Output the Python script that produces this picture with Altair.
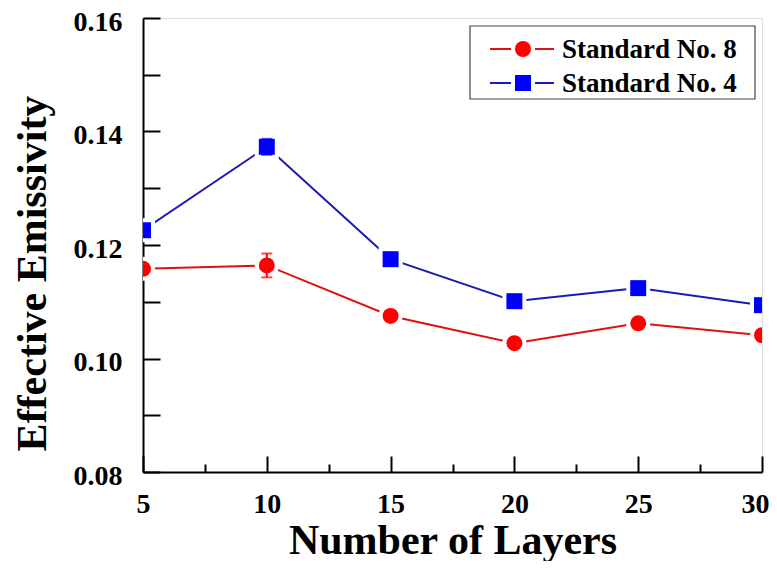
import altair as alt
import pandas as pd

# ---- data ----
layers = [5, 10, 15, 20, 25, 30]
series_names = ["Standard No. 8", "Standard No. 4"]
no8 = [0.1158, 0.1164, 0.1075, 0.1027, 0.1062, 0.1041]
no8_err = [0.0004, 0.0021, 0.0004, 0.0004, 0.0004, 0.0004]
no4 = [0.1226, 0.1373, 0.1175, 0.1101, 0.1124, 0.1094]
no4_err = [0.0006, 0.0014, 0.0005, 0.0004, 0.0005, 0.0004]
y_ticks = [0.08, 0.09, 0.10, 0.11, 0.12, 0.13, 0.14, 0.15, 0.16]
y_labels = [0.08, 0.10, 0.12, 0.14, 0.16]
x_major = [5, 10, 15, 20, 25, 30]
x_minor = [7.5, 12.5, 17.5, 22.5, 27.5]

marker_colors = ["#ff0000", "#0000ff"]
line_colors = ["#dd1111", "#1a1ab4"]
shapes = ["circle", "square"]

FONT = "Liberation Serif"

frames = []
for name, vals, errs in [(series_names[0], no8, no8_err), (series_names[1], no4, no4_err)]:
    frames.append(pd.DataFrame({
        "series": name,
        "layers": layers,
        "value": vals,
        "lo": [v - e for v, e in zip(vals, errs)],
        "hi": [v + e for v, e in zip(vals, errs)],
    }))
df = pd.concat(frames, ignore_index=True)

xscale = alt.Scale(domain=[5, 30], nice=False, zero=False)
yscale = alt.Scale(domain=[0.08, 0.16], nice=False, zero=False)

main_x = alt.Axis(
    values=x_major, format="d", ticks=False, tickSize=0, grid=False,
    domainColor="black", domainWidth=2,
    labelFont=FONT, labelFontWeight="bold", labelFontSize=28, labelColor="black",
    labelPadding=18, labelBaseline="top",
    labelAlign={"condition": {"test": "datum.value == 30", "value": "right"}, "value": "center"},
    labelOffset={"condition": {"test": "datum.value == 30", "value": 7}, "value": 0},
    title="Number of Layers", titleFont=FONT, titleFontWeight="bold", titleFontSize=42,
    titleColor="black", titleX=309.5, titleY=81, titleBaseline="alphabetic", titleAlign="center",
)
main_y = alt.Axis(
    values=y_labels, format=".2f", ticks=False, tickSize=0, grid=False,
    domainColor="black", domainWidth=2,
    labelFont=FONT, labelFontWeight="bold", labelFontSize=28, labelColor="black",
    labelPadding=21, labelOffset=4,
    title="Effective Emissivity", titleFont=FONT, titleFontWeight="bold", titleFontSize=42,
    titleColor="black", titleX=-98, titleY=255, titleAngle=-90,
    titleBaseline="alphabetic", titleAlign="center",
)

base = alt.Chart(df)

chart_layers = []
for i, name in enumerate(series_names):
    sub = base.transform_filter(alt.datum.series == name)
    first = i == 0
    line = sub.mark_line(strokeWidth=2, clip=True).encode(
        x=alt.X("layers:Q", scale=xscale, axis=main_x if first else None),
        y=alt.Y("value:Q", scale=yscale, axis=main_y if first else None),
        color=alt.value(line_colors[i]),
    )
    chart_layers.append(line)

for i, name in enumerate(series_names):
    sub = base.transform_filter(alt.datum.series == name)
    pts = sub.mark_point(filled=True, size=255, shape=shapes[i], stroke="white",
                         strokeWidth=8, opacity=1, clip=True).encode(
        x=alt.X("layers:Q", scale=xscale, axis=None),
        y=alt.Y("value:Q", scale=yscale, axis=None),
        fill=alt.value("white"),
    )
    pts_inner = sub.mark_point(filled=True, size=255, shape=shapes[i], opacity=1,
                               clip=True).encode(
        x=alt.X("layers:Q", scale=xscale, axis=None),
        y=alt.Y("value:Q", scale=yscale, axis=None),
        color=alt.value(marker_colors[i]),
    )
    err = sub.mark_errorbar(ticks={"size": 11, "thickness": 2}, thickness=2, clip=True).encode(
        x=alt.X("layers:Q", scale=xscale, axis=None),
        y=alt.Y("lo:Q", scale=yscale, axis=None),
        y2="hi:Q",
        color=alt.value(marker_colors[i]),
    )
    chart_layers += [pts, pts_inner, err]

# inward ticks drawn by offset axes
tick_major = base.mark_point(opacity=0).encode(
    x=alt.X("layers:Q", scale=xscale, axis=alt.Axis(
        orient="bottom", values=x_major, offset=-16, tickSize=16, tickWidth=2, tickColor="black",
        labels=False, domain=False, grid=False, title=None)),
    y=alt.Y("value:Q", scale=yscale, axis=alt.Axis(
        orient="left", values=y_ticks, offset=-17, tickSize=17, tickWidth=2, tickColor="black",
        labels=False, domain=False, grid=False, title=None)),
)
tick_minor = base.mark_point(opacity=0).encode(
    x=alt.X("layers:Q", scale=xscale, axis=alt.Axis(
        orient="bottom", values=x_minor, offset=-8, tickSize=8, tickWidth=2, tickColor="black",
        labels=False, domain=False, grid=False, title=None)),
    y=alt.Y("value:Q", scale=yscale, axis=None),
)
chart_layers += [tick_major, tick_minor]

# legend box (manual, Origin style)
leg_df = pd.DataFrame({"series": series_names})
box = alt.Chart(leg_df).transform_filter(alt.datum.series == series_names[0]).mark_rect(
    fill="white", stroke="#444444", strokeWidth=1.2).encode(
    x=alt.value(327), x2=alt.value(612), y=alt.value(8), y2=alt.value(81))
chart_layers.append(box)
row_y = [31, 65]
for i, name in enumerate(series_names):
    one = alt.Chart(leg_df).transform_filter(alt.datum.series == name)
    chart_layers.append(one.mark_rule(strokeWidth=2).encode(
        x=alt.value(347), x2=alt.value(411), y=alt.value(row_y[i]), color=alt.value(line_colors[i])))
    chart_layers.append(one.mark_point(filled=True, size=255, shape=shapes[i], stroke="white",
                                       strokeWidth=8, opacity=1).encode(
        x=alt.value(380), y=alt.value(row_y[i]), fill=alt.value("white")))
    chart_layers.append(one.mark_point(filled=True, size=255, shape=shapes[i], opacity=1).encode(
        x=alt.value(380), y=alt.value(row_y[i]), color=alt.value(marker_colors[i])))
    chart_layers.append(one.mark_text(align="left", baseline="middle", font=FONT,
                                      fontWeight="bold", fontSize=27, color="black").encode(
        x=alt.value(419), y=alt.value(row_y[i] + 1), text="series:N"))

chart = alt.layer(*chart_layers).resolve_axis(x="independent", y="independent").properties(
    width=619, height=454,
    padding={"left": 135, "top": 10, "right": 7, "bottom": 89},
    autosize="none",
).configure_view(stroke="black", strokeWidth=2).configure(background="white")

chart.save("out.html", embed_options={"renderer": "svg", "actions": False})
